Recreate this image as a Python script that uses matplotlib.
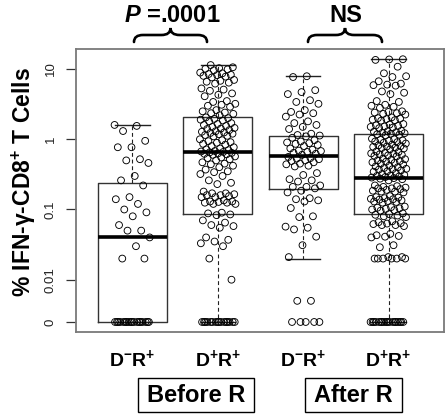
import numpy as np
import matplotlib
matplotlib.use("Agg")
import matplotlib.pyplot as plt
from matplotlib.path import Path
from matplotlib.patches import PathPatch, Rectangle
from matplotlib.transforms import blended_transform_factory

plt.rcParams["font.family"] = ["Liberation Sans", "DejaVu Sans"]
plt.rcParams["mathtext.fontset"] = "custom"
plt.rcParams["mathtext.rm"] = "Liberation Sans:bold"
plt.rcParams["mathtext.bf"] = "Liberation Sans:bold"
plt.rcParams["mathtext.it"] = "Liberation Sans:bold:italic"

# ---- data (percent IFN-g+ CD8 T cells) ----
group_labels = [r"D$^{-}$R$^{+}$", r"D$^{+}$R$^{+}$", r"D$^{-}$R$^{+}$", r"D$^{+}$R$^{+}$"]
phase_labels = ["Before R", "After R"]

dmrp_before = [1.60, 1.55, 1.31, 0.95, 0.77, 0.77, 0.52, 0.50, 0.46, 0.30, 0.26, 0.22,
               0.15, 0.14, 0.12, 0.10, 0.091, 0.08, 0.06, 0.05, 0.05, 0.04, 0.03, 0.02, 0.02]
dprp_before = [11.4, 10.6, 10.3, 10.1, 9.9, 9.6, 8.9, 8.7, 8.5, 8.3, 8.2, 8.0, 7.8, 7.6,
               7.0, 6.8, 6.6, 6.4, 6.2, 5.3, 5.1, 4.9, 4.5, 4.3, 4.1,
               3.5, 3.4, 3.2, 3.1, 3.0, 2.9, 2.6, 2.5, 2.4, 2.35, 2.3, 2.2,
               2.05, 2.0, 1.95, 1.9, 1.85, 1.8, 1.7, 1.65, 1.6, 1.55, 1.5, 1.45, 1.42, 1.4,
               1.35, 1.3, 1.28, 1.25, 1.23, 1.2, 1.18, 1.15, 1.12, 1.1,
               1.0, 0.97, 0.94, 0.91, 0.89, 0.86, 0.84, 0.8, 0.77, 0.74, 0.72, 0.7, 0.68,
               0.67, 0.66, 0.65, 0.64, 0.63, 0.62, 0.61, 0.6, 0.57, 0.55, 0.54, 0.52, 0.5,
               0.47, 0.45, 0.44, 0.42, 0.40, 0.37, 0.35, 0.34, 0.32, 0.30,
               0.26, 0.24, 0.23, 0.18, 0.17, 0.17, 0.165, 0.16, 0.16, 0.155, 0.15, 0.15,
               0.135, 0.13, 0.13, 0.128, 0.125, 0.125, 0.12, 0.12,
               0.09, 0.088, 0.085, 0.083, 0.07, 0.065, 0.06, 0.058, 0.055,
               0.04, 0.037, 0.035, 0.033, 0.03, 0.02, 0.01]
dmrp_after = [7.9, 7.7, 5.0, 4.7, 4.4, 3.6, 3.4, 3.2, 2.6, 2.45, 2.35, 2.25, 2.1,
              1.8, 1.7, 1.6, 1.5, 1.4, 1.2, 1.15, 1.13, 1.1, 1.05, 0.97, 0.93, 0.9,
              0.88, 0.86, 0.83, 0.8, 0.74, 0.71, 0.69, 0.68, 0.66, 0.64, 0.62, 0.6,
              0.56, 0.54, 0.53, 0.52, 0.5, 0.49, 0.47, 0.45, 0.44, 0.42, 0.41, 0.33,
              0.31, 0.27, 0.26, 0.25, 0.22, 0.21, 0.21, 0.2, 0.185, 0.175, 0.145, 0.14,
              0.135, 0.13, 0.105, 0.08, 0.078, 0.057, 0.055, 0.052, 0.041, 0.031,
              0.021, 0.005, 0.005]
dprp_after = [13.8, 13.7, 13.5, 10.8, 8.7, 7.9, 7.7, 6.7, 6.2, 6.0, 5.9, 5.8, 4.8, 4.6,
              4.4, 3.5, 3.4, 3.1, 3.0, 2.9, 2.8, 2.5, 2.45, 2.4, 2.35, 2.3, 2.25,
              2.05, 2.0, 1.97, 1.94, 1.9, 1.87, 1.84, 1.65, 1.62, 1.58, 1.55, 1.52,
              1.5, 1.47, 1.44, 1.32, 1.3, 1.28, 1.26, 1.24, 1.22, 1.2, 1.18, 1.16, 1.14,
              1.02, 1.0, 0.98, 0.96, 0.95, 0.93, 0.91, 0.89, 0.87,
              0.84, 0.82, 0.8, 0.79, 0.78, 0.76, 0.75, 0.74, 0.72,
              0.67, 0.66, 0.64, 0.63, 0.62, 0.61, 0.6, 0.59, 0.58, 0.57,
              0.53, 0.52, 0.51, 0.5, 0.49, 0.48, 0.47, 0.46, 0.45, 0.44,
              0.42, 0.41, 0.4, 0.39, 0.38, 0.375, 0.37, 0.36, 0.35, 0.345,
              0.33, 0.32, 0.31, 0.305, 0.3, 0.295, 0.29, 0.285, 0.28, 0.275, 0.27, 0.26,
              0.22, 0.215, 0.21, 0.205, 0.2, 0.2, 0.195, 0.19, 0.185, 0.18, 0.18, 0.175,
              0.155, 0.15, 0.148, 0.145, 0.142, 0.14, 0.138, 0.135, 0.132, 0.13, 0.128, 0.125,
              0.11, 0.108, 0.106, 0.104, 0.102, 0.1, 0.098, 0.096,
              0.088, 0.086, 0.084, 0.082, 0.08, 0.078,
              0.068, 0.066, 0.064, 0.063, 0.062, 0.06, 0.06, 0.058,
              0.045, 0.043, 0.042, 0.041, 0.04, 0.031, 0.029,
              0.021, 0.021, 0.02, 0.02, 0.02, 0.02, 0.02, 0.02]
zero_counts = [18, 16, 5, 18]

# box statistics
q1 = [0.0, 0.086, 0.195, 0.087]
med = [0.04, 0.66, 0.57, 0.28]
q3 = [0.237, 2.07, 1.12, 1.18]
whis_lo = [0.0, 0.0, 0.02, 0.0]
whis_hi = [1.58, 11.4, 7.95, 13.7]

ZERO_AT = 0.0025          # where "0" sits on the log axis
def pos(v):
    v = np.asarray(v, dtype=float)
    return np.where(v <= 0, ZERO_AT, v)

groups = [dmrp_before, dprp_before, dmrp_after, dprp_after]
xs = [1, 2, 3, 4]

fig = plt.figure(figsize=(4.46, 4.16), dpi=100)
ax = fig.add_axes([76/446, 1-332/416, 368/446, 283/416])

stats = []
for i in range(4):
    stats.append(dict(med=pos(med[i]), q1=pos(q1[i]), q3=pos(q3[i]),
                      whislo=pos(whis_lo[i]), whishi=pos(whis_hi[i]), fliers=[]))
ax.bxp(stats, positions=xs, widths=0.81, showfliers=False, patch_artist=False,
       boxprops=dict(color="#333333", lw=1.0),
       medianprops=dict(color="black", lw=2.6, solid_capstyle="butt"),
       whiskerprops=dict(color="#222222", lw=0.8, ls=(0, (3.5, 2.5))),
       capprops=dict(color="#222222", lw=1.0), manage_ticks=False)

golden = 0.6180339887
for i, g in enumerate(groups):
    vals = np.concatenate([np.asarray(g, float), np.zeros(zero_counts[i])])
    n = len(vals)
    jit = ((np.arange(n) * golden + 0.3 * i) % 1.0 - 0.5) * 0.42
    ax.scatter(xs[i] + jit, pos(vals), s=24, facecolors="none",
               edgecolors="black", linewidths=0.65, zorder=3)

ax.set_yscale("log")
ax.set_ylim(0.0018, 19.3)
ax.set_xlim(0.338, 4.65)
ax.set_xticks([])
ax.set_yticks([ZERO_AT, 0.01, 0.1, 1, 10])
ax.set_yticklabels(["0", "0.01", "0.1", "1", "10"])
ax.minorticks_off()
ax.tick_params(axis="y", length=7, width=0.9, color="#333333", pad=7,
               labelsize=9.5, labelcolor="#222222", labelrotation=90)
for lab in ax.get_yticklabels():
    lab.set_va("center")
for s in ax.spines.values():
    s.set_color("#7a7a7a")
    s.set_linewidth(1.3)

# y label
fig.text(24/446, 1-182/416, r"% IFN-γ-CD8$^{+}$ T Cells", rotation=90,
         ha="center", va="center", fontsize=16.5, fontweight="bold")

# group labels
tr = blended_transform_factory(ax.transData, fig.transFigure)
for x, lab in zip(xs, group_labels):
    ax.text(x, 1-359/416, lab, transform=tr, ha="center", va="center",
            fontsize=14, fontweight="bold")

# phase boxes (pixel coords)
def px(x, y):
    return x/446, 1-y/416

for (x0, x1), lab in zip([(138, 254), (305, 402)], phase_labels):
    fx0, fy1 = px(x0, 412)
    fig.patches.append(Rectangle((fx0, fy1), (x1-x0)/446, 34/416,
                                 transform=fig.transFigure, fill=False,
                                 ec="black", lw=1.0))
    fig.text(*px((x0+x1)/2, 395), lab, ha="center", va="center",
             fontsize=17, fontweight="bold")

# braces with significance text
def brace(x0, x1, ytop, yarm, ybot, r=9):
    xc = 0.5*(x0+x1)
    pts = [(x0, ybot), (x0, yarm), (x0+r, yarm), (xc-r, yarm), (xc, yarm), (xc, ytop),
           (xc, yarm), (xc+r, yarm), (x1-r, yarm), (x1, yarm), (x1, ybot)]
    codes = [Path.MOVETO, Path.CURVE3, Path.CURVE3, Path.LINETO, Path.CURVE3, Path.CURVE3,
             Path.CURVE3, Path.CURVE3, Path.LINETO, Path.CURVE3, Path.CURVE3]
    path = Path([px(a, b) for a, b in pts], codes)
    fig.patches.append(PathPatch(path, transform=fig.transFigure, fill=False,
                                 ec="black", lw=1.9, capstyle="round"))

brace(134, 207, 28, 35, 42)
brace(308, 382, 28, 35, 42)
fig.text(*px(172, 15), r"$\mathit{P}$ =.0001", ha="center", va="center", fontsize=17,
         fontweight="bold")
fig.text(*px(346, 15), "NS", ha="center", va="center", fontsize=17, fontweight="bold")

fig.savefig("out.png", dpi=100)
